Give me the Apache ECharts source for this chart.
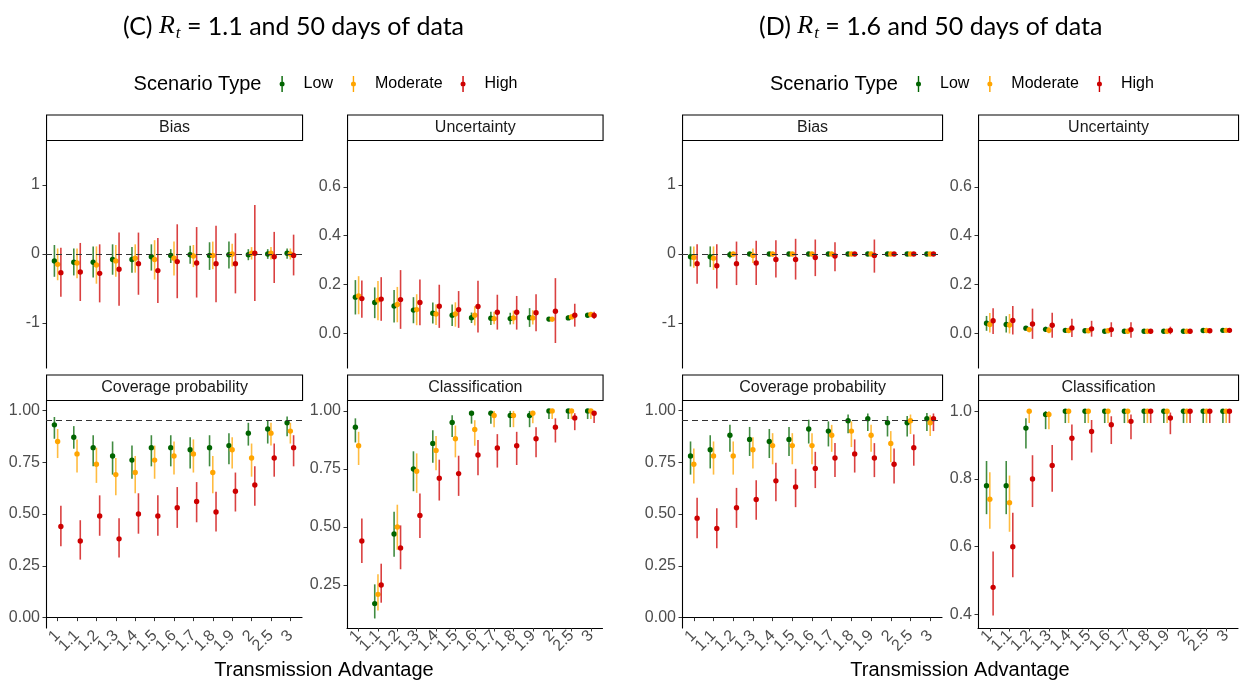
<!DOCTYPE html>
<html>
<head>
<meta charset="utf-8">
<script src="https://cdn.jsdelivr.net/npm/echarts@6/dist/echarts.min.js"></script>
<style>
  html, body { margin: 0; padding: 0; background: #fff; }
  #chart { width: 1240px; height: 684px; }
</style>
</head>
<body>
<div id="chart"></div>
<script>
// categories (transmission advantage) and scenario groups
const cats = ['1', '1.1', '1.2', '1.3', '1.4', '1.5', '1.6', '1.7', '1.8', '1.9', '2', '2.5', '3']
const groupNames = ['Low', 'Moderate', 'High']
const groupColors = ['#006400', '#FFA500', '#CD0000']

// tick values per facet
const biasTicks = [-1, 0, 1]
const uncTicks = [0, 0.2, 0.4, 0.6]
const covTicks = [0, 0.25, 0.5, 0.75, 1]
const clsTicksC = [0.25, 0.5, 0.75, 1]
const clsTicksD = [0.4, 0.6, 0.8, 1]

// each entry: [estimate, lower, upper]
// (C) Rt = 1.1
const cBiasLow = [[-0.10, -0.33, 0.13], [-0.12, -0.31, 0.08], [-0.12, -0.34, 0.11], [-0.08, -0.30, 0.14], [-0.08, -0.27, 0.10], [-0.04, -0.24, 0.14], [-0.02, -0.13, 0.07], [-0.01, -0.14, 0.12], [-0.02, -0.23, 0.17], [-0.01, -0.21, 0.18], [-0.01, -0.09, 0.07], [0.00, -0.07, 0.07], [0.01, -0.07, 0.08]]
const cBiasMod = [[-0.15, -0.38, 0.08], [-0.13, -0.35, 0.08], [-0.16, -0.43, 0.11], [-0.10, -0.33, 0.13], [-0.06, -0.27, 0.14], [-0.08, -0.37, 0.20], [-0.06, -0.31, 0.18], [-0.03, -0.19, 0.13], [-0.02, -0.22, 0.18], [0.00, -0.18, 0.15], [0.01, -0.08, 0.10], [0.01, -0.08, 0.10], [0.00, -0.08, 0.08]]
const cBiasHigh = [[-0.27, -0.62, 0.09], [-0.26, -0.68, 0.16], [-0.28, -0.70, 0.14], [-0.22, -0.75, 0.31], [-0.14, -0.59, 0.31], [-0.24, -0.71, 0.23], [-0.11, -0.64, 0.43], [-0.13, -0.63, 0.39], [-0.14, -0.70, 0.41], [-0.14, -0.57, 0.30], [0.01, -0.68, 0.71], [-0.04, -0.42, 0.32], [-0.02, -0.31, 0.28]]

const cUncLow = [[0.148, 0.077, 0.218], [0.126, 0.062, 0.188], [0.112, 0.044, 0.177], [0.095, 0.041, 0.148], [0.082, 0.040, 0.126], [0.074, 0.030, 0.118], [0.064, 0.042, 0.085], [0.062, 0.034, 0.088], [0.060, 0.036, 0.084], [0.064, 0.026, 0.103], [0.058, 0.049, 0.067], [0.063, 0.056, 0.073], [0.074, 0.067, 0.082]]
const cUncMod = [[0.153, 0.078, 0.234], [0.136, 0.053, 0.214], [0.118, 0.045, 0.190], [0.097, 0.033, 0.160], [0.079, 0.034, 0.119], [0.079, 0.027, 0.127], [0.074, 0.032, 0.111], [0.060, 0.037, 0.088], [0.063, 0.037, 0.093], [0.063, 0.036, 0.094], [0.058, 0.047, 0.067], [0.067, 0.058, 0.078], [0.077, 0.068, 0.084]]
const cUncHigh = [[0.142, 0.064, 0.216], [0.140, 0.051, 0.230], [0.138, 0.018, 0.259], [0.126, 0.033, 0.220], [0.111, 0.022, 0.199], [0.097, 0.022, 0.173], [0.110, 0.003, 0.215], [0.086, 0.015, 0.158], [0.086, 0.015, 0.153], [0.084, 0.008, 0.160], [0.090, -0.040, 0.226], [0.074, 0.027, 0.121], [0.073, 0.059, 0.088]]

const cCovLow = [[0.93, 0.863, 0.968], [0.87, 0.815, 0.924], [0.82, 0.73, 0.88], [0.78, 0.69, 0.85], [0.76, 0.67, 0.83], [0.82, 0.73, 0.88], [0.82, 0.73, 0.88], [0.81, 0.72, 0.87], [0.82, 0.73, 0.88], [0.83, 0.74, 0.89], [0.89, 0.83, 0.94], [0.91, 0.84, 0.95], [0.94, 0.875, 0.97]]
const cCovMod = [[0.85, 0.77, 0.91], [0.79, 0.70, 0.86], [0.74, 0.65, 0.82], [0.69, 0.59, 0.77], [0.70, 0.60, 0.78], [0.76, 0.67, 0.83], [0.78, 0.69, 0.85], [0.79, 0.70, 0.86], [0.70, 0.60, 0.78], [0.81, 0.72, 0.87], [0.77, 0.68, 0.84], [0.89, 0.83, 0.94], [0.90, 0.84, 0.94]]
const cCovHigh = [[0.44, 0.345, 0.54], [0.37, 0.28, 0.47], [0.49, 0.395, 0.59], [0.38, 0.29, 0.48], [0.50, 0.405, 0.60], [0.49, 0.395, 0.59], [0.53, 0.433, 0.63], [0.56, 0.46, 0.654], [0.51, 0.415, 0.607], [0.61, 0.512, 0.70], [0.64, 0.54, 0.73], [0.77, 0.68, 0.84], [0.82, 0.73, 0.88]]

const cClsLow = [[0.93, 0.864, 0.968], [0.17, 0.106, 0.253], [0.47, 0.372, 0.566], [0.75, 0.654, 0.826], [0.86, 0.777, 0.917], [0.95, 0.888, 0.981], [0.99, 0.945, 1], [0.99, 0.945, 1], [0.98, 0.93, 1], [0.98, 0.93, 1], [1, 0.965, 1], [1, 0.965, 1], [1, 0.965, 1]]
const cClsMod = [[0.85, 0.767, 0.91], [0.21, 0.14, 0.296], [0.50, 0.402, 0.596], [0.74, 0.647, 0.817], [0.83, 0.744, 0.892], [0.88, 0.80, 0.937], [0.92, 0.85, 0.96], [0.98, 0.93, 1], [0.98, 0.93, 1], [0.99, 0.947, 1], [1, 0.965, 1], [1, 0.965, 1], [1, 0.965, 1]]
const cClsHigh = [[0.44, 0.345, 0.537], [0.25, 0.174, 0.342], [0.41, 0.318, 0.507], [0.55, 0.453, 0.644], [0.71, 0.614, 0.79], [0.73, 0.634, 0.807], [0.81, 0.723, 0.875], [0.84, 0.756, 0.90], [0.85, 0.767, 0.91], [0.88, 0.80, 0.93], [0.93, 0.864, 0.968], [0.97, 0.917, 0.99], [0.99, 0.948, 1]]

// (D) Rt = 1.6
const dBiasLow = [[-0.04, -0.18, 0.11], [-0.04, -0.19, 0.11], [-0.01, -0.06, 0.04], [0, -0.01, 0.01], [0, -0.01, 0.01], [0, -0.01, 0.01], [0, 0, 0], [0, 0, 0], [0, 0, 0], [0, 0, 0], [0, 0, 0], [0, 0, 0], [0, 0, 0]]
const dBiasMod = [[-0.05, -0.20, 0.11], [-0.06, -0.23, 0.11], [0, -0.03, 0.03], [-0.02, -0.13, 0.08], [0, -0.04, 0.03], [0, -0.02, 0.02], [0, -0.02, 0.02], [0, 0, 0], [0, 0, 0], [0, 0, 0], [0, 0, 0], [0, 0, 0], [0, 0, 0]]
const dBiasHigh = [[-0.14, -0.43, 0.14], [-0.17, -0.50, 0.14], [-0.14, -0.45, 0.18], [-0.13, -0.45, 0.19], [-0.08, -0.34, 0.20], [-0.08, -0.37, 0.22], [-0.05, -0.32, 0.21], [-0.03, -0.25, 0.17], [0, -0.01, 0.01], [-0.02, -0.27, 0.21], [0, 0, 0], [0, 0, 0], [0, 0, 0]]

const dUncLow = [[0.041, 0.010, 0.071], [0.036, 0.003, 0.070], [0.021, 0.012, 0.029], [0.016, 0.005, 0.027], [0.012, 0.006, 0.018], [0.010, 0.005, 0.015], [0.008, 0.006, 0.010], [0.008, 0.006, 0.010], [0.008, 0.007, 0.009], [0.008, 0.007, 0.009], [0.008, 0.007, 0.009], [0.011, 0.010, 0.012], [0.012, 0.011, 0.013]]
const dUncMod = [[0.036, 0.003, 0.083], [0.034, -0.001, 0.079], [0.015, 0.004, 0.023], [0.012, 0.0, 0.027], [0.011, 0.003, 0.019], [0.010, 0.005, 0.015], [0.010, 0.006, 0.014], [0.008, 0.006, 0.010], [0.008, 0.007, 0.009], [0.008, 0.007, 0.009], [0.008, 0.007, 0.009], [0.011, 0.010, 0.012], [0.012, 0.011, 0.013]]
const dUncHigh = [[0.051, -0.003, 0.103], [0.052, -0.005, 0.112], [0.038, -0.023, 0.101], [0.033, -0.018, 0.084], [0.022, -0.015, 0.059], [0.018, -0.014, 0.051], [0.015, -0.015, 0.045], [0.015, -0.018, 0.045], [0.008, 0.0, 0.016], [0.011, -0.004, 0.027], [0.008, 0.006, 0.010], [0.010, 0.009, 0.011], [0.012, 0.010, 0.014]]

const dCovLow = [[0.78, 0.69, 0.85], [0.81, 0.72, 0.88], [0.88, 0.80, 0.93], [0.86, 0.78, 0.92], [0.85, 0.77, 0.91], [0.86, 0.78, 0.92], [0.91, 0.84, 0.955], [0.90, 0.826, 0.947], [0.95, 0.89, 0.98], [0.96, 0.90, 0.985], [0.94, 0.874, 0.973], [0.94, 0.874, 0.973], [0.96, 0.90, 0.987]]
const dCovMod = [[0.74, 0.647, 0.816], [0.78, 0.69, 0.85], [0.78, 0.69, 0.85], [0.81, 0.72, 0.87], [0.83, 0.74, 0.89], [0.83, 0.74, 0.89], [0.83, 0.74, 0.89], [0.88, 0.80, 0.93], [0.90, 0.823, 0.947], [0.88, 0.80, 0.93], [0.84, 0.75, 0.90], [0.95, 0.886, 0.98], [0.94, 0.876, 0.976]]
const dCovHigh = [[0.48, 0.383, 0.578], [0.43, 0.335, 0.528], [0.53, 0.433, 0.626], [0.57, 0.472, 0.663], [0.66, 0.562, 0.747], [0.63, 0.533, 0.718], [0.72, 0.625, 0.80], [0.77, 0.678, 0.842], [0.79, 0.70, 0.86], [0.77, 0.678, 0.842], [0.74, 0.647, 0.816], [0.82, 0.733, 0.884], [0.96, 0.90, 0.985]]

const dClsLow = [[0.78, 0.696, 0.853], [0.78, 0.696, 0.853], [0.95, 0.89, 0.979], [0.99, 0.947, 1], [1, 0.965, 1], [1, 0.965, 1], [1, 0.965, 1], [1, 0.965, 1], [1, 0.965, 1], [1, 0.965, 1], [1, 0.965, 1], [1, 0.965, 1], [1, 0.965, 1]]
const dClsMod = [[0.74, 0.653, 0.82], [0.73, 0.644, 0.81], [1, 0.965, 1], [0.99, 0.947, 1], [1, 0.965, 1], [1, 0.965, 1], [1, 0.965, 1], [1, 0.965, 1], [1, 0.965, 1], [1, 0.965, 1], [1, 0.965, 1], [1, 0.965, 1], [1, 0.965, 1]]
const dClsHigh = [[0.48, 0.397, 0.586], [0.60, 0.51, 0.70], [0.80, 0.717, 0.87], [0.84, 0.762, 0.90], [0.92, 0.855, 0.961], [0.94, 0.878, 0.974], [0.96, 0.903, 0.985], [0.97, 0.917, 0.99], [1, 0.965, 1], [0.98, 0.932, 0.996], [1, 0.965, 1], [1, 0.965, 1], [1, 0.965, 1]]

// layout
const FONT = 'Liberation Sans'
const dodge = [-0.167, 0, 0.167]
const X_MIN = -0.6
const X_MAX = 12.6
const rowTop = [140, 400]
const panelH = 228
const stripH = 25.5

const panels = [
  { strip: 'Bias', left: 46, width: 256, row: 0, yMin: -1.65, yMax: 1.65, ticks: biasTicks, dec: 0, ref: 0, sets: [cBiasLow, cBiasMod, cBiasHigh] },
  { strip: 'Uncertainty', left: 347, width: 255.5, row: 0, yMin: -0.1425, yMax: 0.7925, ticks: uncTicks, dec: 1, ref: null, sets: [cUncLow, cUncMod, cUncHigh] },
  { strip: 'Coverage probability', left: 46, width: 256, row: 1, yMin: -0.05, yMax: 1.05, ticks: covTicks, dec: 2, ref: 0.95, sets: [cCovLow, cCovMod, cCovHigh] },
  { strip: 'Classification', left: 347, width: 255.5, row: 1, yMin: 0.065, yMax: 1.047, ticks: clsTicksC, dec: 2, ref: null, sets: [cClsLow, cClsMod, cClsHigh] },
  { strip: 'Bias', left: 682, width: 260, row: 0, yMin: -1.65, yMax: 1.65, ticks: biasTicks, dec: 0, ref: 0, sets: [dBiasLow, dBiasMod, dBiasHigh] },
  { strip: 'Uncertainty', left: 978, width: 260, row: 0, yMin: -0.1425, yMax: 0.7925, ticks: uncTicks, dec: 1, ref: null, sets: [dUncLow, dUncMod, dUncHigh] },
  { strip: 'Coverage probability', left: 682, width: 260, row: 1, yMin: -0.05, yMax: 1.05, ticks: covTicks, dec: 2, ref: 0.95, sets: [dCovLow, dCovMod, dCovHigh] },
  { strip: 'Classification', left: 978, width: 260, row: 1, yMin: 0.36, yMax: 1.033, ticks: clsTicksD, dec: 1, ref: null, sets: [dClsLow, dClsMod, dClsHigh] }
]

// category positions plus blank end stops, so the min/max label check drops only the blanks
const xTickValues = [X_MIN].concat(cats.map((c, k) => k), [X_MAX])

const makeRender = (color) => (params, api) => {
  const x = api.value(0)
  const mid = api.coord([x, api.value(1)])
  const lo = api.coord([x, api.value(2)])
  const hi = api.coord([x, api.value(3)])
  return {
    type: 'group',
    children: [
      { type: 'line', shape: { x1: lo[0], y1: lo[1], x2: hi[0], y2: hi[1] }, style: { stroke: color, lineWidth: 1.6, opacity: 0.75 } },
      { type: 'circle', shape: { cx: mid[0], cy: mid[1], r: 2.7 }, style: { fill: color } }
    ]
  }
}

const grids = []
const xAxes = []
const yAxes = []
const series = []
const graphics = []

panels.forEach((p, i) => {
  const top = rowTop[p.row]
  grids.push({ left: p.left, top: top, width: p.width, height: panelH, containLabel: false, outerBoundsMode: 'none' })

  xAxes.push({
    type: 'value',
    gridIndex: i,
    min: X_MIN,
    max: X_MAX,
    show: p.row === 1,
    axisLine: { show: true, lineStyle: { color: '#000', width: 1.1 } },
    axisTick: { show: true, length: 3.5, lineStyle: { color: '#333' }, customValues: xTickValues },
    axisLabel: {
      show: true,
      customValues: xTickValues,
      formatter: (v) => (Number.isInteger(v) ? cats[v] : ''),
      showMinLabel: false,
      showMaxLabel: false,
      hideOverlap: false,
      rotate: 45,
      margin: 5,
      fontSize: 16,
      fontFamily: FONT,
      color: '#4d4d4d'
    },
    splitLine: { show: false }
  })

  yAxes.push({
    type: 'value',
    gridIndex: i,
    min: p.yMin,
    max: p.yMax,
    axisLine: { show: true, onZero: false, lineStyle: { color: '#000', width: 1.1 } },
    axisTick: { show: true, length: 3.5, lineStyle: { color: '#333' }, customValues: p.ticks },
    axisLabel: {
      customValues: p.ticks,
      formatter: (v) => Number(v).toFixed(p.dec),
      showMinLabel: true,
      showMaxLabel: true,
      margin: 6,
      fontSize: 16,
      fontFamily: FONT,
      color: '#4d4d4d'
    },
    splitLine: { show: false }
  })

  if (p.ref !== null) {
    series.push({
      type: 'line',
      xAxisIndex: i,
      yAxisIndex: i,
      data: [],
      z: 1,
      markLine: {
        silent: true,
        symbol: ['none', 'none'],
        label: { show: false },
        lineStyle: { color: '#333', type: [6, 4], width: 1.2 },
        data: [{ yAxis: p.ref }]
      }
    })
  }

  p.sets.forEach((set, g) => {
    series.push({
      type: 'custom',
      name: groupNames[g],
      xAxisIndex: i,
      yAxisIndex: i,
      z: 3,
      itemStyle: { color: groupColors[g] },
      encode: { x: 0, y: 1 },
      renderItem: makeRender(groupColors[g]),
      data: set.map((d, k) => [k + dodge[g], d[0], d[1], d[2]])
    })
  })

  // facet strip
  graphics.push({
    type: 'group',
    left: p.left,
    top: top - stripH,
    children: [
      { type: 'rect', shape: { x: 0, y: 0, width: p.width, height: stripH }, style: { fill: '#fff', stroke: '#000', lineWidth: 1.1 } },
      { type: 'text', x: p.width / 2, y: stripH / 2, style: { text: p.strip, fontSize: 16, fontFamily: FONT, fill: '#1a1a1a', align: 'center', verticalAlign: 'middle' } }
    ]
  })
})

// shared labels per group
const groupInfo = [
  { title: '{a|(C) }{r|R}{s|t}{a| = 1.1 and 50 days of data}', titleLeft: 123, legendX: 133.6, center: 324 },
  { title: '{a|(D) }{r|R}{s|t}{a| = 1.6 and 50 days of data}', titleLeft: 759, legendX: 770, center: 960 }
]

const titleRich = {
  a: { fontFamily: 'Lato', fontSize: 25, fontWeight: 'normal', color: '#000', lineHeight: 30 },
  r: { fontFamily: 'Liberation Serif', fontStyle: 'italic', fontWeight: 'normal', fontSize: 26, color: '#000', lineHeight: 30 },
  s: { fontFamily: 'Liberation Serif', fontStyle: 'italic', fontWeight: 'normal', fontSize: 17, color: '#000', padding: [14, 0, 0, 1] }
}

const legendIcon = 'path://M4.3,0H5.7V5.5H4.3Z M4.3,10.5H5.7V16H4.3Z M2.5,8a2.5,2.5 0 1,0 5,0a2.5,2.5 0 1,0 -5,0Z'

const titles = groupInfo.map((g) => ({
  text: g.title,
  left: g.titleLeft,
  top: 11,
  padding: 0,
  textStyle: { fontWeight: 'normal', rich: titleRich }
}))

const legends = groupInfo.map((g) => ({
  left: g.legendX + 146,
  top: 76,
  padding: 0,
  itemWidth: 5,
  itemHeight: 16,
  itemGap: 18,
  selectedMode: false,
  data: groupNames.map((n) => ({ name: n, icon: legendIcon })),
  textStyle: { fontSize: 16, fontFamily: FONT, color: '#000', padding: [0, 0, 0, 14] }
}))

groupInfo.forEach((g) => {
  graphics.push({
    type: 'text',
    left: g.legendX,
    top: 74,
    style: { text: 'Scenario Type', fontSize: 20, fontFamily: FONT, fill: '#000' }
  })
  graphics.push({
    type: 'text',
    x: g.center,
    y: 670,
    style: { text: 'Transmission Advantage', fontSize: 20, fontFamily: FONT, fill: '#000', align: 'center', verticalAlign: 'middle' }
  })
})

const chart = echarts.init(document.getElementById('chart'))
chart.setOption({
  backgroundColor: '#fff',
  animation: false,
  textStyle: { fontFamily: FONT },
  title: titles,
  legend: legends,
  grid: grids,
  xAxis: xAxes,
  yAxis: yAxes,
  series: series,
  graphic: graphics
})
</script>
</body>
</html>
